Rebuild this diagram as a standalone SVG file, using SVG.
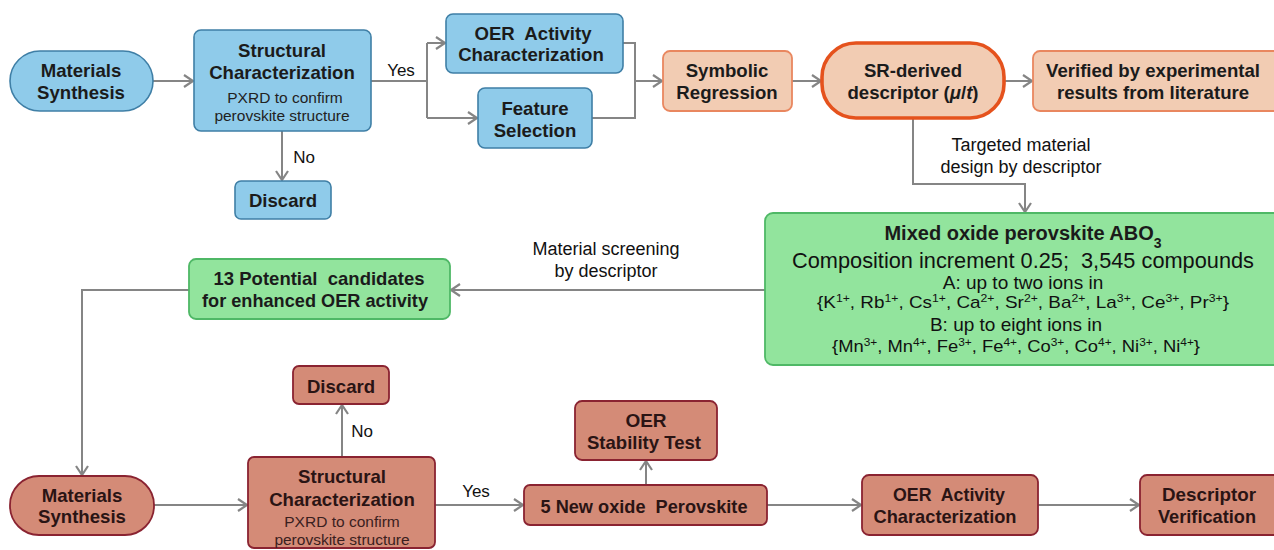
<svg xmlns="http://www.w3.org/2000/svg" width="1274" height="550" viewBox="0 0 1274 550">
<defs>
<marker id="arr" markerUnits="userSpaceOnUse" markerWidth="14" markerHeight="16" refX="10" refY="7" orient="auto">
<path d="M1,1 L10,7 L1,13" fill="none" stroke="#858585" stroke-width="2.2" stroke-linejoin="miter"/>
</marker>
<style>
.blue{fill:#8fcbea;stroke:#3f7fa6;stroke-width:1.6}
.peach{fill:#f2ccb3;stroke:#e9875f;stroke-width:1.8}
.sr{fill:#f2ccb3;stroke:#e5521d;stroke-width:3.6}
.green{fill:#92e49d;stroke:#4fb866;stroke-width:1.8}
.brown{fill:#d48b77;stroke:#8a2331;stroke-width:1.8}
.b{font-family:"Liberation Sans",Arial,sans-serif;font-weight:bold;font-size:18.6px;fill:#1b1b1b;text-anchor:middle}
.n{font-family:"Liberation Sans Narrow","Liberation Sans",Arial,sans-serif;font-weight:bold;font-size:19px;fill:#2a1414;text-anchor:middle;white-space:pre}
.r{font-family:"Liberation Sans",Arial,sans-serif;font-size:18px;fill:#111;text-anchor:middle}
.s{font-family:"Liberation Sans",Arial,sans-serif;font-size:15.5px;fill:#222;text-anchor:middle}
.con{fill:none;stroke:#858585;stroke-width:2}
</style>
</defs>
<rect width="1274" height="550" fill="#ffffff"/>

<g id="connectors">
<path class="con" d="M153,81 H193" marker-end="url(#arr)"/>
<path class="con" d="M371,81 H427"/>
<path class="con" d="M427,43 V118"/>
<path class="con" d="M427,43 H445" marker-end="url(#arr)"/>
<path class="con" d="M427,118 H477" marker-end="url(#arr)"/>
<path class="con" d="M623,43 H635 V118 H592"/>
<path class="con" d="M635,81 H662" marker-end="url(#arr)"/>
<path class="con" d="M792,81 H821" marker-end="url(#arr)"/>
<path class="con" d="M1004,81 H1032" marker-end="url(#arr)"/>
<path class="con" d="M282,131 V180" marker-end="url(#arr)"/>
<path class="con" d="M913,118 V184 H1025 V212" marker-end="url(#arr)"/>
<path class="con" d="M765,290 H451" marker-end="url(#arr)"/>
<path class="con" d="M189,290 H82 V475" marker-end="url(#arr)"/>
<path class="con" d="M154,505 H247" marker-end="url(#arr)"/>
<path class="con" d="M342,457 V405" marker-end="url(#arr)"/>
<path class="con" d="M435,505 H523" marker-end="url(#arr)"/>
<path class="con" d="M646,485 V461" marker-end="url(#arr)"/>
<path class="con" d="M767,505 H861" marker-end="url(#arr)"/>
<path class="con" d="M1038,505 H1139" marker-end="url(#arr)"/>
<text class="r" x="401" y="76" style="font-size:17px">Yes</text>
<text class="r" x="304" y="163" style="font-size:17px">No</text>
<text class="r" x="1021" y="151">Targeted material</text>
<text class="r" x="1021" y="173">design by descriptor</text>
<text class="r" x="606" y="255">Material screening</text>
<text class="r" x="606" y="277">by descriptor</text>
<text class="r" x="362" y="437" style="font-size:17px">No</text>
<text class="r" x="476" y="497" style="font-size:17px">Yes</text>
</g>

<g id="materials-synthesis-1">
<rect class="blue" x="10" y="51" width="143" height="60" rx="30"/>
<text class="b" x="81" y="77">Materials</text>
<text class="b" x="81" y="99">Synthesis</text>
</g>
<g id="structural-1">
<rect class="blue" x="194" y="30" width="177" height="101" rx="7"/>
<text class="b" x="282" y="57">Structural</text>
<text class="b" x="282" y="79">Characterization</text>
<text class="s" x="285" y="103">PXRD to confirm</text>
<text class="s" x="282" y="121">perovskite structure</text>
</g>
<g id="discard-1">
<rect class="blue" x="235" y="181" width="96" height="38" rx="6"/>
<text class="b" x="283" y="207">Discard</text>
</g>
<g id="oer-activity-1">
<rect class="blue" x="446" y="14" width="177" height="59" rx="7"/>
<text class="b" x="533" y="40" xml:space="preserve">OER  Activity</text>
<text class="b" x="531" y="61">Characterization</text>
</g>
<g id="feature-selection">
<rect class="blue" x="478" y="88" width="114" height="60" rx="7"/>
<text class="b" x="535" y="115">Feature</text>
<text class="b" x="535" y="137">Selection</text>
</g>
<g id="symbolic-regression">
<rect class="peach" x="663" y="51" width="129" height="60" rx="7"/>
<text class="b" x="727" y="77">Symbolic</text>
<text class="b" x="727" y="99">Regression</text>
</g>
<g id="sr-descriptor">
<rect class="sr" x="822" y="43" width="182" height="75" rx="34"/>
<text class="b" x="913" y="77">SR-derived</text>
<text class="b" x="913" y="99">descriptor (<tspan font-style="italic">μ</tspan>/<tspan font-style="italic">t</tspan>)</text>
</g>
<g id="verified">
<rect class="peach" x="1033" y="51" width="252" height="60" rx="7"/>
<text class="b" x="1153" y="77">Verified by experimental</text>
<text class="b" x="1153" y="99">results from literature</text>
</g>
<g id="mixed-oxide">
<rect class="green" x="765" y="213" width="520" height="152" rx="8"/>
<text class="b" x="1023" y="240" style="font-size:20px">Mixed oxide perovskite ABO<tspan baseline-shift="sub" font-size="14">3</tspan></text>
<text class="r" x="1023" y="268" style="font-size:21.5px" textLength="462" lengthAdjust="spacingAndGlyphs" xml:space="preserve">Composition increment 0.25;  3,545 compounds</text>
<text class="r" x="1023" y="289" style="font-size:19px">A: up to two ions in</text>
<text class="r" x="1023" y="308" style="font-size:17px" textLength="412" lengthAdjust="spacingAndGlyphs">{K<tspan baseline-shift="super" font-size="11">1+</tspan>, Rb<tspan baseline-shift="super" font-size="11">1+</tspan>, Cs<tspan baseline-shift="super" font-size="11">1+</tspan>, Ca<tspan baseline-shift="super" font-size="11">2+</tspan>, Sr<tspan baseline-shift="super" font-size="11">2+</tspan>, Ba<tspan baseline-shift="super" font-size="11">2+</tspan>, La<tspan baseline-shift="super" font-size="11">3+</tspan>, Ce<tspan baseline-shift="super" font-size="11">3+</tspan>, Pr<tspan baseline-shift="super" font-size="11">3+</tspan>}</text>
<text class="r" x="1016" y="331" style="font-size:19px">B: up to eight ions in</text>
<text class="r" x="1016" y="352" style="font-size:17px" textLength="368" lengthAdjust="spacingAndGlyphs">{Mn<tspan baseline-shift="super" font-size="11">3+</tspan>, Mn<tspan baseline-shift="super" font-size="11">4+</tspan>, Fe<tspan baseline-shift="super" font-size="11">3+</tspan>, Fe<tspan baseline-shift="super" font-size="11">4+</tspan>, Co<tspan baseline-shift="super" font-size="11">3+</tspan>, Co<tspan baseline-shift="super" font-size="11">4+</tspan>, Ni<tspan baseline-shift="super" font-size="11">3+</tspan>, Ni<tspan baseline-shift="super" font-size="11">4+</tspan>}</text>
</g>
<g id="candidates">
<rect class="green" x="189" y="259" width="261" height="60" rx="7"/>
<text class="n" x="319" y="285" style="fill:#1b1b1b" textLength="211" lengthAdjust="spacingAndGlyphs" xml:space="preserve">13 Potential  candidates</text>
<text class="n" x="315" y="307" style="fill:#1b1b1b" textLength="226" lengthAdjust="spacingAndGlyphs">for enhanced OER activity</text>
</g>
<g id="materials-synthesis-2">
<rect class="brown" x="10" y="476" width="144" height="59" rx="29"/>
<text class="b" x="82" y="502" style="fill:#2a1414">Materials</text>
<text class="b" x="82" y="523" style="fill:#2a1414">Synthesis</text>
</g>
<g id="structural-2">
<rect class="brown" x="248" y="457" width="187" height="91" rx="6"/>
<text class="b" x="342" y="483" style="fill:#2a1414">Structural</text>
<text class="b" x="342" y="506" style="fill:#2a1414">Characterization</text>
<text class="s" x="342" y="527" style="fill:#3a2020">PXRD to confirm</text>
<text class="s" x="342" y="545" style="fill:#3a2020">perovskite structure</text>
</g>
<g id="discard-2">
<rect class="brown" x="293" y="366" width="96" height="38" rx="6"/>
<text class="b" x="341" y="393" style="fill:#2a1414">Discard</text>
</g>
<g id="new-perovskite">
<rect class="brown" x="524" y="485" width="243" height="40" rx="6"/>
<text class="n" x="644" y="513" textLength="207" lengthAdjust="spacingAndGlyphs" xml:space="preserve">5 New oxide  Perovskite</text>
</g>
<g id="stability-test">
<rect class="brown" x="575" y="401" width="142" height="59" rx="7"/>
<text class="n" x="646" y="427">OER</text>
<text class="n" x="644" y="449" textLength="114" lengthAdjust="spacingAndGlyphs">Stability Test</text>
</g>
<g id="oer-activity-2">
<rect class="brown" x="862" y="475" width="176" height="60" rx="7"/>
<text class="n" x="949" y="501" textLength="112" lengthAdjust="spacingAndGlyphs" xml:space="preserve">OER  Activity</text>
<text class="n" x="945" y="523" textLength="143" lengthAdjust="spacingAndGlyphs">Characterization</text>
</g>
<g id="descriptor-verification">
<rect class="brown" x="1140" y="475" width="145" height="60" rx="7"/>
<text class="n" x="1209" y="501" textLength="94" lengthAdjust="spacingAndGlyphs">Descriptor</text>
<text class="n" x="1207" y="523" textLength="98" lengthAdjust="spacingAndGlyphs">Verification</text>
</g>
</svg>
